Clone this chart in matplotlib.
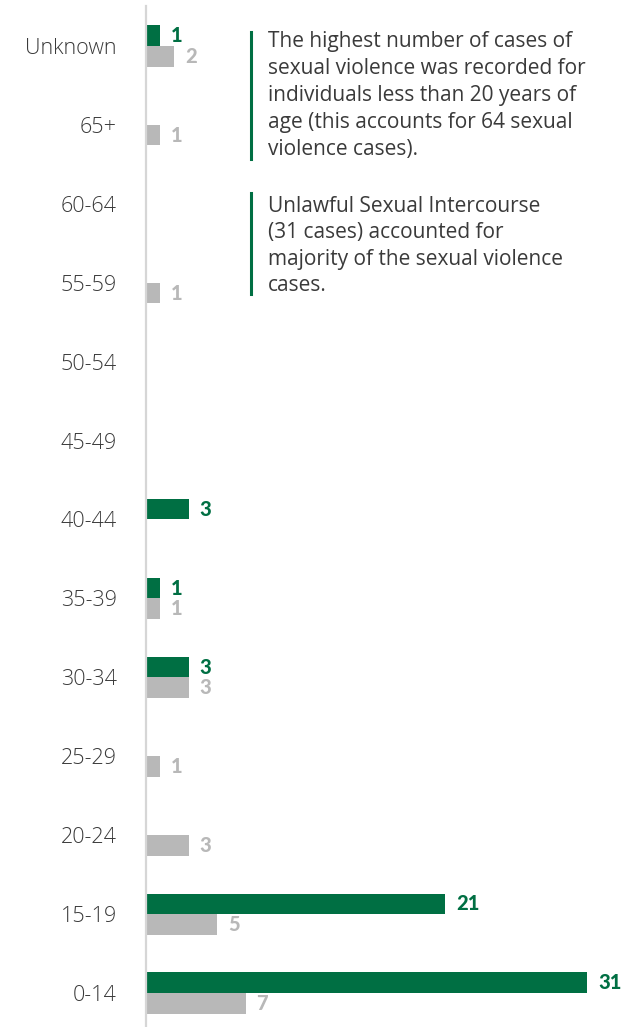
import matplotlib
matplotlib.use("Agg")
import matplotlib.pyplot as plt

categories = ["0-14", "15-19", "20-24", "25-29", "30-34", "35-39", "40-44",
              "45-49", "50-54", "55-59", "60-64", "65+", "Unknown"]
green_vals = [31, 21, 0, 0, 3, 1, 3, 0, 0, 0, 0, 0, 1]
gray_vals = [7, 5, 3, 1, 3, 1, 0, 0, 0, 1, 0, 1, 2]

note1 = ["The highest number of cases of",
         "sexual violence was recorded for",
         "individuals less than 20 years of",
         "age (this accounts for 64 sexual",
         "violence cases)."]
note2 = ["Unlawful Sexual Intercourse",
         "(31 cases) accounted for",
         "majority of the sexual violence",
         "cases."]

GREEN = "#006f43"
GRAY = "#b8b8b8"
TXT = "#3a3a3a"
FONT = "Open Sans"

W, H = 636, 1027
fig = plt.figure(figsize=(W / 100, H / 100), dpi=100)
ax_left = 146 / W
ax = fig.add_axes([ax_left, 0, 1 - ax_left, 1])

bh = 0.26
ys = list(range(len(categories)))
ax.barh([y + bh / 2 for y in ys], green_vals, height=bh, color=GREEN)
ax.barh([y - bh / 2 for y in ys], gray_vals, height=bh, color=GRAY)

ax.set_xlim(0, (W - 146) / 14.23)
ax.set_ylim(-0.431, 12.583)

for y, v in zip(ys, green_vals):
    if v:
        ax.annotate(str(v), (v, y + bh / 2), xytext=(11, 0), textcoords="offset pixels",
                    va="center", ha="left", color=GREEN, fontsize=14.5,
                    fontweight="black", family="Lato")
for y, v in zip(ys, gray_vals):
    if v:
        ax.annotate(str(v), (v, y - bh / 2), xytext=(11, 0), textcoords="offset pixels",
                    va="center", ha="left", color=GRAY, fontsize=14.5,
                    fontweight="black", family="Lato")

for s in ["top", "right", "bottom"]:
    ax.spines[s].set_visible(False)
ax.spines["left"].set_color("#d6d6d6")
ax.spines["left"].set_linewidth(1.6)
ax.spines["left"].set_bounds(-0.431, 12.507)
ax.set_xticks([])
ax.set_yticks(ys)
ax.set_yticklabels(categories, family=FONT, fontsize=15.5, color=TXT, fontweight="light")
ax.tick_params(axis="y", length=0, pad=21)

def px(x, y):
    return x / W, 1 - y / H

# annotation lines and text
for (y0, y1) in [(32, 159), (193, 294)]:
    fig.add_artist(plt.Line2D([251 / W, 251 / W], [1 - y0 / H, 1 - y1 / H],
                              color=GREEN, lw=2.2, transform=fig.transFigure))

base1 = [47, 74, 101, 128, 155]
base2 = [212, 238, 265, 291]
for line, b in zip(note1, base1):
    fig.text(*px(268, b), line, family=FONT, fontsize=15.0, color=TXT, va="baseline", ha="left")
for line, b in zip(note2, base2):
    fig.text(*px(268, b), line, family=FONT, fontsize=15.0, color=TXT, va="baseline", ha="left")

fig.savefig("out.png", dpi=100)
